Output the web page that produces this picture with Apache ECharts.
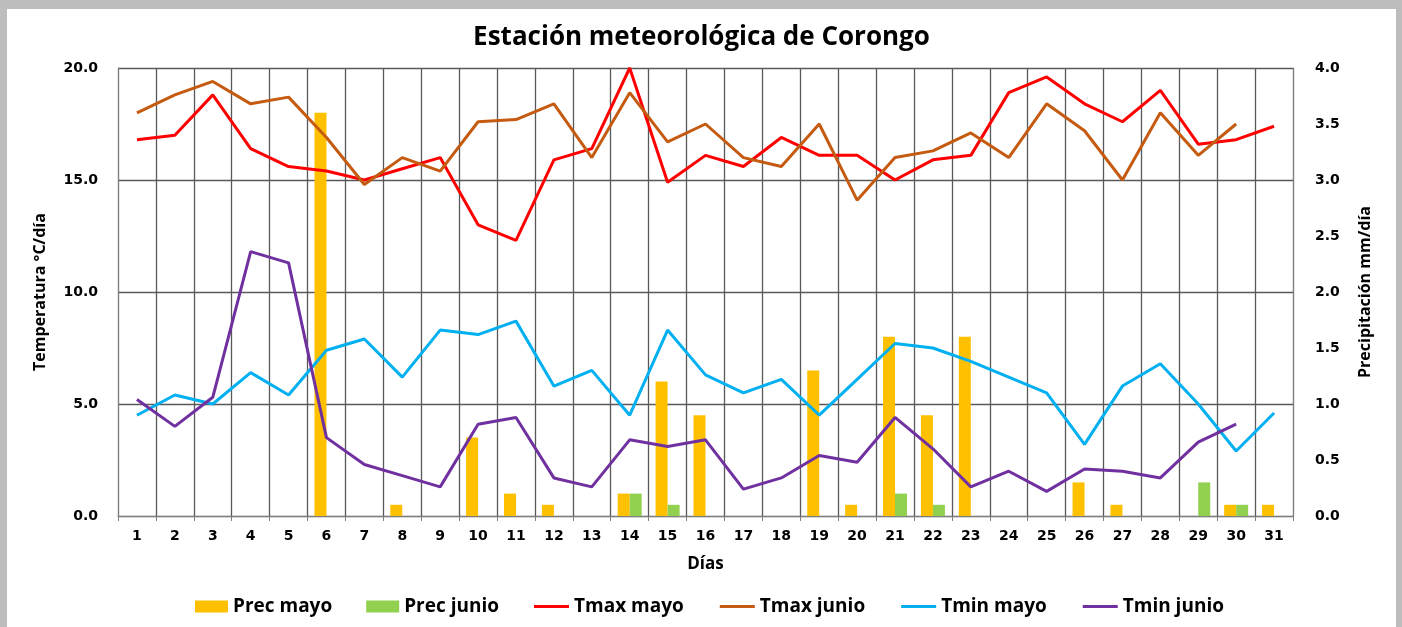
<!DOCTYPE html>
<html>
<head>
<meta charset="utf-8">
<script src="https://cdn.jsdelivr.net/npm/echarts@6/dist/echarts.min.js"></script>
<style>
  html, body { margin: 0; padding: 0; background: #bdbdbd; }
  #chart { position: absolute; left: 7px; top: 9px; width: 1389px; height: 618px; background: #fff; }
</style>
</head>
<body>
<div id="chart"></div>
<script>
// días del mes
const dias = ['1','2','3','4','5','6','7','8','9','10','11','12','13','14','15','16','17','18','19','20','21','22','23','24','25','26','27','28','29','30','31']

// precipitación mm/día
const precMayo = [null,null,null,null,null,3.6,null,0.1,null,0.7,0.2,0.1,null,0.2,1.2,0.9,null,null,1.3,0.1,1.6,0.9,1.6,null,null,0.3,0.1,null,null,0.1,0.1]
const precJunio = [null,null,null,null,null,null,null,null,null,null,null,null,null,0.2,0.1,null,null,null,null,null,0.2,0.1,null,null,null,null,null,null,0.3,0.1,null]

// temperaturas °C
const tmaxMayo = [16.8,17.0,18.8,16.4,15.6,15.4,15.0,15.5,16.0,13.0,12.3,15.9,16.4,20.0,14.9,16.1,15.6,16.9,16.1,16.1,15.0,15.9,16.1,18.9,19.6,18.4,17.6,19.0,16.6,16.8,17.4]
const tmaxJunio = [18.0,18.8,19.4,18.4,18.7,16.9,14.8,16.0,15.4,17.6,17.7,18.4,16.0,18.9,16.7,17.5,16.0,15.6,17.5,14.1,16.0,16.3,17.1,16.0,18.4,17.2,15.0,18.0,16.1,17.5,null]
const tminMayo = [4.5,5.4,5.0,6.4,5.4,7.4,7.9,6.2,8.3,8.1,8.7,5.8,6.5,4.5,8.3,6.3,5.5,6.1,4.5,6.1,7.7,7.5,6.9,6.2,5.5,3.2,5.8,6.8,5.0,2.9,4.6]
const tminJunio = [5.2,4.0,5.3,11.8,11.3,3.5,2.3,1.8,1.3,4.1,4.4,1.7,1.3,3.4,3.1,3.4,1.2,1.7,2.7,2.4,4.4,3.0,1.3,2.0,1.1,2.1,2.0,1.7,3.3,4.1,null]

const fontTxt = '"Open Sans", Lato, sans-serif'
const fontNum = '"DejaVu Sans", Verdana, sans-serif'
const txtStyle = { fontFamily: fontTxt, fontSize: 17, fontWeight: 'bold', color: '#000' }
const legendTxt = { fontFamily: fontTxt, fontSize: 19, fontWeight: 'bold', color: '#000' }

const chartInstance = echarts.init(document.getElementById('chart'))

const lineSerie = (name, data, color) => {
  return {
    name: name,
    type: 'line',
    yAxisIndex: 0,
    data: data,
    symbol: 'none',
    // ancho de línea
    lineStyle: { width: 3, color: color },
    itemStyle: { color: color },
    z: 5
  }
}

const option = {
  animation: false,
  title: {
    text: 'Estación meteorológica de Corongo',
    left: 'center',
    top: 11,
    textStyle: { fontFamily: fontTxt, fontSize: 26, fontWeight: 'bold', color: '#000' }
  },
  grid: { left: 111, right: 103, top: 59, bottom: 111 },
  legend: [
    {
      data: ['Prec mayo', 'Prec junio'],
      left: 188,
      top: 588,
      padding: 0,
      icon: 'rect',
      itemWidth: 33,
      itemHeight: 12,
      itemGap: 34,
      textStyle: legendTxt
    },
    {
      data: ['Tmax mayo', 'Tmax junio', 'Tmin mayo', 'Tmin junio'],
      left: 527,
      top: 588,
      padding: 0,
      icon: 'rect',
      itemWidth: 35,
      itemHeight: 3,
      itemGap: 36,
      textStyle: legendTxt
    }
  ],
  xAxis: {
    type: 'category',
    data: dias,
    name: 'Días',
    nameLocation: 'middle',
    nameGap: 40,
    nameTextStyle: txtStyle,
    axisLine: { lineStyle: { color: '#7f7f7f', width: 1 } },
    axisTick: { show: true, alignWithLabel: false, length: 5, lineStyle: { color: '#7f7f7f' } },
    axisLabel: { interval: 0, margin: 13, fontFamily: fontNum, fontSize: 14, fontWeight: 'bold', color: '#000' },
    splitLine: { show: true, interval: 0, lineStyle: { color: '#595959', width: 1.3 } }
  },
  yAxis: [
    {
      type: 'value',
      min: 0,
      max: 20,
      interval: 5,
      name: 'Temperatura °C/día',
      nameLocation: 'middle',
      nameGap: 70,
      nameTextStyle: { fontFamily: fontTxt, fontSize: 16, fontWeight: 'bold', color: '#000' },
      axisLine: { show: true, lineStyle: { color: '#7f7f7f' } },
      axisLabel: { margin: 20, fontFamily: fontNum, fontSize: 14, fontWeight: 'bold', color: '#000', formatter: (v) => v.toFixed(1) },
      splitLine: { show: true, lineStyle: { color: '#595959', width: 1.3 } }
    },
    {
      type: 'value',
      min: 0,
      max: 4,
      interval: 0.5,
      name: 'Precipitación mm/día',
      nameLocation: 'middle',
      nameGap: 64,
      nameRotate: 90,
      nameTextStyle: { fontFamily: fontTxt, fontSize: 16, fontWeight: 'bold', color: '#000' },
      axisLine: { show: true, lineStyle: { color: '#7f7f7f' } },
      axisLabel: { margin: 22, fontFamily: fontNum, fontSize: 14, fontWeight: 'bold', color: '#000', formatter: (v) => v.toFixed(1) },
      splitLine: { show: false }
    }
  ],
  series: [
    {
      name: 'Prec mayo',
      type: 'bar',
      yAxisIndex: 1,
      data: precMayo,
      barWidth: 12,
      barGap: '0%',
      itemStyle: { color: '#FFC000' }
    },
    {
      name: 'Prec junio',
      type: 'bar',
      yAxisIndex: 1,
      data: precJunio,
      barWidth: 12,
      barGap: '0%',
      itemStyle: { color: '#92D050' }
    },
    lineSerie('Tmax mayo', tmaxMayo, '#FF0000'),
    lineSerie('Tmax junio', tmaxJunio, '#C55A11'),
    lineSerie('Tmin mayo', tminMayo, '#00B0F0'),
    lineSerie('Tmin junio', tminJunio, '#7030A0')
  ]
}

chartInstance.setOption(option)
</script>
</body>
</html>
